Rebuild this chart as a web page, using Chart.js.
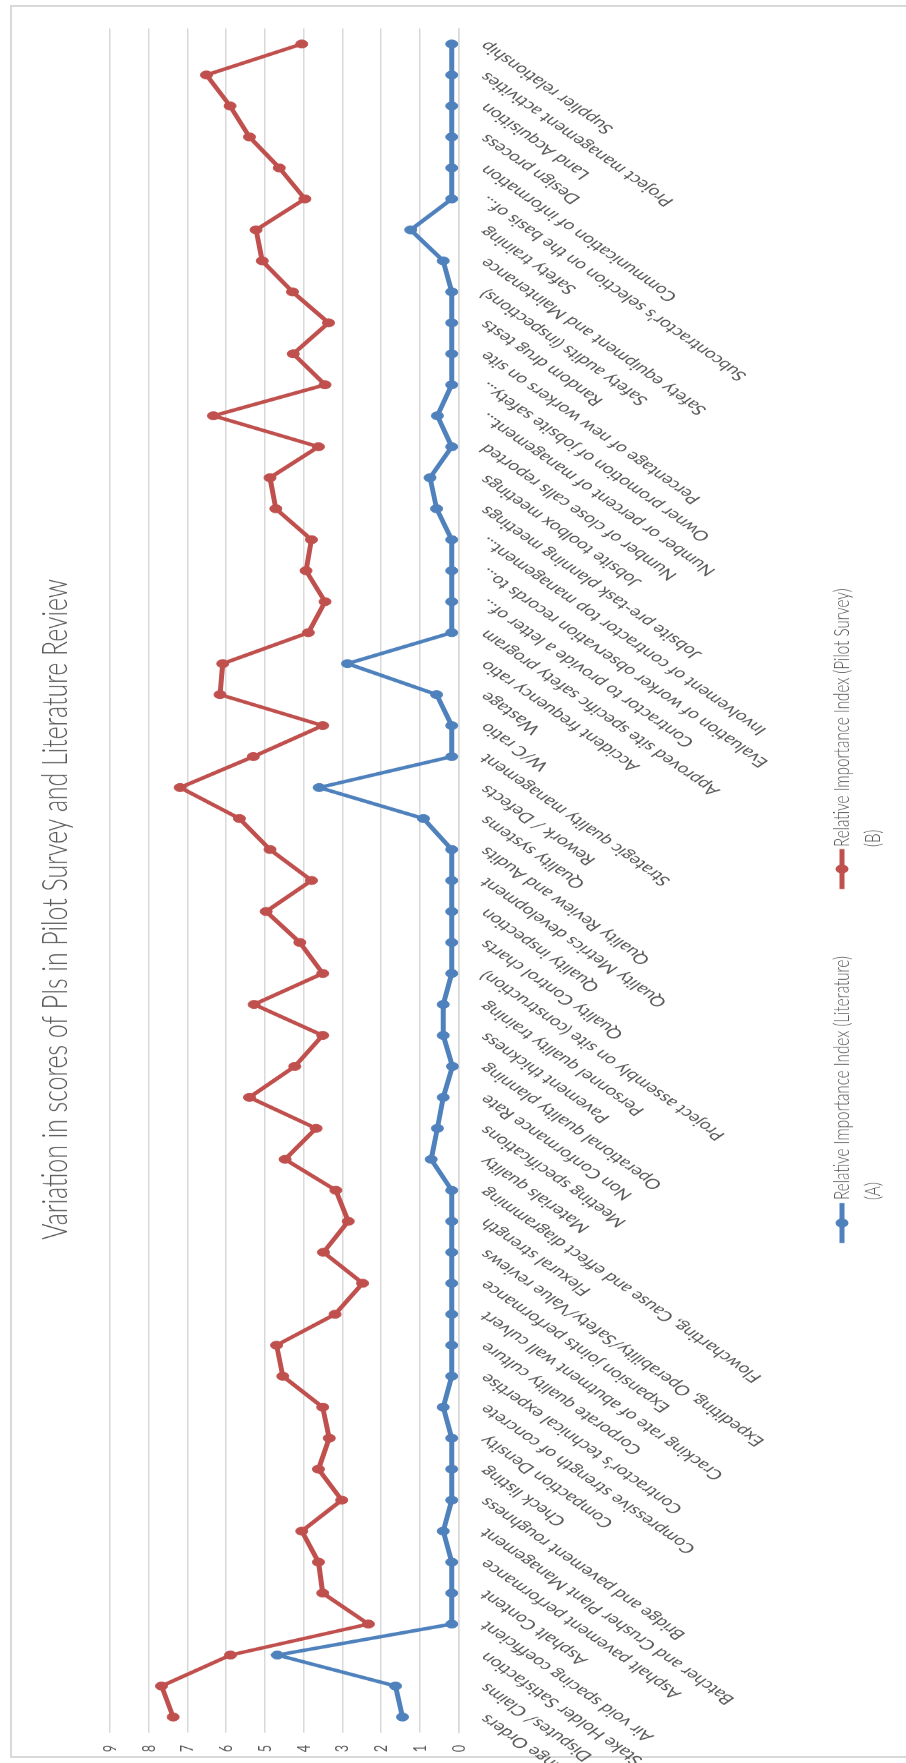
<!DOCTYPE html>
<html>
<head>
<meta charset="utf-8">
<script src="https://cdn.jsdelivr.net/npm/chart.js@4.4.0/dist/chart.umd.min.js"></script>
<style>
  html, body { margin: 0; padding: 0; background: #ffffff; }
  body { width: 906px; height: 1763px; overflow: hidden; position: relative; }
  #frame { position: absolute; left: 10px; top: 5px; width: 930px; height: 1753px;
           border: 2px solid #d9d9d9; box-sizing: border-box; }
  #wrap { position: absolute; left: 0; top: 0; transform-origin: 0 0; }
  canvas { display: block; }
</style>
</head>
<body>
<div id="frame"></div>
<div id="wrap"><canvas id="chart"></canvas></div>
<script>
// Performance indicators (x axis categories)
const categories = [
  "Change Orders", "Disputes/ Claims", "Stake Holder Satisfaction",
  "Air void spacing coefficient", "Asphalt Content", "Asphalt pavement performance",
  "Batcher and Crusher Plant Management", "Bridge and pavement roughness", "Check listing",
  "Compaction Density", "Compressive strength of concrete", "Contractor\u2019s technical expertise",
  "Corporate quality culture", "Cracking rate of abutment wall culvert", "Expansion joints performance",
  "Expediting, Operability/Safety/Value reviews", "Flexural strength",
  "Flowcharting, Cause and effect diagramming", "Materials quality", "Meeting specifications",
  "Non Conformance Rate", "Operational quality planning", "Pavement thickness",
  "Personnel quality training", "Project assembly on site (construction)", "Quality Control charts",
  "Quality inspection", "Quality Metrics development", "Quality Review and Audits", "Quality systems",
  "Rework / Defects", "Strategic quality management", "W/C ratio", "Wastage",
  "Accident frequency ratio", "Approved site specific safety program",
  "Contractor to provide a letter of...", "Evaluation of worker observation records to...",
  "Involvement of contractor top management...", "Jobsite pre-task planning meetings",
  "Jobsite toolbox meetings", "Number of close calls reported", "Number or percent of management...",
  "Owner promotion of jobsite safety...", "Percentage of new workers on site", "Random drug tests",
  "Safety audits (inspections)", "Safety equipment and Maintenance", "Safety training",
  "Subcontractor\u2019s selection on the basis of...", "Communication of information",
  "Design process", "Land Acquisition", "Project management activities", "Supplier relationship"
];

// Relative Importance Index from the literature review (A)
const literatureRII = [
  1.45, 1.63, 4.68, 0.18, 0.18, 0.18, 0.40, 0.18, 0.18, 0.18,
  0.40, 0.18, 0.18, 0.18, 0.18, 0.18, 0.18, 0.18, 0.71, 0.55,
  0.40, 0.16, 0.40, 0.40, 0.18, 0.18, 0.18, 0.18, 0.18, 0.91,
  3.60, 0.18, 0.18, 0.57, 2.87, 0.18, 0.18, 0.18, 0.18, 0.57,
  0.74, 0.18, 0.55, 0.18, 0.18, 0.18, 0.18, 0.40, 1.24, 0.18,
  0.18, 0.18, 0.18, 0.18, 0.18
];

// Relative Importance Index from the pilot survey (B)
const pilotRII = [
  7.37, 7.67, 5.89, 2.33, 3.51, 3.62, 4.05, 3.02, 3.62, 3.34,
  3.51, 4.54, 4.70, 3.19, 2.48, 3.49, 2.85, 3.17, 4.48, 3.68,
  5.40, 4.23, 3.51, 5.28, 3.51, 4.10, 4.97, 3.80, 4.87, 5.66,
  7.19, 5.30, 3.51, 6.16, 6.09, 3.88, 3.45, 3.94, 3.80, 4.72,
  4.87, 3.62, 6.33, 3.45, 4.27, 3.36, 4.29, 5.07, 5.23, 3.97,
  4.63, 5.40, 5.90, 6.51, 4.05
];

const seriesNames = ["Relative Importance Index (Literature)", "Relative Importance Index (Pilot Survey)"];
const seriesTags = ["(A)", "(B)"];
const seriesColors = ["#4f81bd", "#c0504d"];
const chartTitle = "Variation in scores of PIs in Pilot Survey and Literature Review";
const valueMin = 0, valueMax = 9, valueStep = 1;

// The landscape chart is drawn wide, then squeezed horizontally and turned a quarter turn
// so that it stands upright on the tall page.
const PAGE_W = 906, PAGE_H = 1763;
const W = Math.round(PAGE_H / 0.69);
const H = PAGE_W;
const sx = PAGE_H / W;
const u = v => v / sx;            // squeezed length -> canvas length along x

const plotLeft = u(30.5), plotRight = u(1734.5);
const plotTop = 110, plotBottom = 458.7;

const wrap = document.getElementById('wrap');
wrap.style.width = W + 'px';
wrap.style.height = H + 'px';
wrap.style.transform = `translate(0px, ${PAGE_H}px) rotate(-90deg) scale(${sx}, 1)`;

const canvas = document.getElementById('chart');
canvas.width = W; canvas.height = H;
canvas.style.width = W + 'px'; canvas.style.height = H + 'px';

const TEXT = '#595959';

const titlePlugin = {
  id: 'sideTitle',
  afterDraw(chart) {
    const ctx = chart.ctx;
    ctx.save();
    ctx.font = '300 36px Lato';
    ctx.fillStyle = TEXT;
    ctx.textAlign = 'center';
    ctx.textBaseline = 'alphabetic';
    ctx.fillText(chartTitle, u(853.5), 67);
    ctx.restore();
  }
};

const legendPlugin = {
  id: 'twoLineLegend',
  afterDraw(chart) {
    const ctx = chart.ctx;
    const markerX = [u(540), u(894)];
    const textX = [u(563), u(916)];
    const y1 = 842, y2 = 873;
    ctx.save();
    chart.data.datasets.forEach((ds) => {
      const k = ds.legendIndex;
      ctx.strokeStyle = ds.borderColor;
      ctx.fillStyle = ds.borderColor;
      ctx.lineWidth = ds.borderWidth;
      ctx.beginPath();
      ctx.moveTo(markerX[k] - u(20), y1);
      ctx.lineTo(markerX[k] + u(20), y1);
      ctx.stroke();
      ctx.beginPath();
      ctx.arc(markerX[k], y1, ds.pointRadius + 0.5, 0, Math.PI * 2);
      ctx.fill();
      ctx.fillStyle = TEXT;
      ctx.font = '300 22px Lato';
      ctx.textAlign = 'left';
      ctx.textBaseline = 'middle';
      ctx.fillText(seriesNames[k], textX[k], y1);
      ctx.fillText(seriesTags[k], textX[k], y2);
    });
    ctx.restore();
  }
};

new Chart(canvas, {
  type: 'line',
  data: {
    labels: categories,
    datasets: [
      {
        label: seriesNames[1], legendIndex: 1, data: pilotRII, order: 0,
        borderColor: seriesColors[1], backgroundColor: seriesColors[1],
        pointBackgroundColor: seriesColors[1], pointBorderColor: seriesColors[1],
        borderWidth: 5, pointRadius: 6, pointBorderWidth: 1, tension: 0
      },
      {
        label: seriesNames[0], legendIndex: 0, data: literatureRII, order: 1,
        borderColor: seriesColors[0], backgroundColor: seriesColors[0],
        pointBackgroundColor: seriesColors[0], pointBorderColor: seriesColors[0],
        borderWidth: 5, pointRadius: 6, pointBorderWidth: 1, tension: 0
      }
    ]
  },
  options: {
    responsive: false,
    devicePixelRatio: 1,
    animation: false,
    layout: { padding: { left: 0, top: plotTop, right: W - plotRight, bottom: 0 } },
    plugins: { legend: { display: false }, title: { display: false }, tooltip: { enabled: false } },
    scales: {
      x: {
        offset: true,
        grid: { display: false, drawTicks: false },
        border: { display: true, color: '#d9d9d9', width: 1.5 },
        ticks: {
          autoSkip: false, minRotation: 45, maxRotation: 45, padding: 16,
          color: TEXT, font: { family: 'Lato', size: 20 }
        },
        afterFit(scale) {
          scale.height = H - plotBottom;
          scale.paddingLeft = 0;
          scale.paddingRight = 0;
        }
      },
      y: {
        min: valueMin, max: valueMax,
        grid: { color: '#d9d9d9', lineWidth: 1.5, drawTicks: false },
        border: { display: false },
        ticks: { stepSize: valueStep, padding: 18, color: TEXT, font: { family: 'Lato', size: 18 } },
        afterFit(scale) { scale.width = plotLeft; }
      }
    }
  },
  plugins: [titlePlugin, legendPlugin]
});
</script>
</body>
</html>
